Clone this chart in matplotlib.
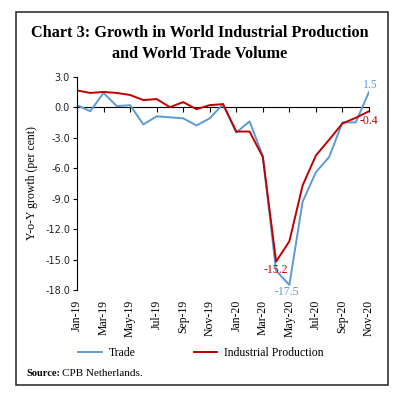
import matplotlib
matplotlib.use('Agg')
import matplotlib.pyplot as plt
from matplotlib.patches import Rectangle

months = ['Jan-19', 'Feb-19', 'Mar-19', 'Apr-19', 'May-19', 'Jun-19', 'Jul-19', 'Aug-19',
          'Sep-19', 'Oct-19', 'Nov-19', 'Dec-19', 'Jan-20', 'Feb-20', 'Mar-20', 'Apr-20',
          'May-20', 'Jun-20', 'Jul-20', 'Aug-20', 'Sep-20', 'Oct-20', 'Nov-20']
trade = [0.2, -0.4, 1.4, 0.1, 0.2, -1.7, -0.9, -1.0, -1.1, -1.8, -1.1, 0.3,
         -2.5, -1.4, -4.8, -16.1, -17.5, -9.3, -6.4, -4.9, -1.5, -1.5, 1.5]
ind_prod = [1.65, 1.4, 1.5, 1.4, 1.2, 0.7, 0.8, 0.0, 0.5, -0.2, 0.2, 0.3,
            -2.4, -2.4, -4.9, -15.2, -13.2, -7.7, -4.75, -3.2, -1.6, -1.05, -0.4]
yticks = [3.0, 0.0, -3.0, -6.0, -9.0, -12.0, -15.0, -18.0]

BLUE = '#5b9bd5'
RED = '#c00000'
SERIF = 'Liberation Serif'

W, H = 400, 398
fig = plt.figure(figsize=(4.0, 3.98), dpi=100)


def px(x0, y0, x1, y1):
    # pixel box (top-left origin) -> figure fraction rect
    return [x0 / W, 1 - y1 / H, (x1 - x0) / W, (y1 - y0) / H]


ax = fig.add_axes(px(77, 76.7, 369, 290))
x = list(range(len(months)))
ax.plot(x, trade, color=BLUE, lw=1.4, label='Trade')
ax.plot(x, ind_prod, color=RED, lw=1.4, label='Industrial Production')

ax.set_xlim(0, 22)
ax.set_ylim(-18, 3)
ax.set_yticks(yticks)
ax.set_yticklabels(['%.1f' % v for v in yticks], fontsize=7, family='DejaVu Sans', color='#222222')
ax.tick_params(axis='y', length=3, width=0.8, pad=2)

# month labels at the bottom, no tick marks there
ax.set_xticks(x[::2])
ax.set_xticklabels(months[::2], rotation=90, fontsize=8.5, family=SERIF)
ax.tick_params(axis='x', length=0, pad=7)
ax.spines['top'].set_visible(False)
ax.spines['right'].set_visible(False)
ax.spines['bottom'].set_visible(False)
ax.spines['left'].set_linewidth(0.8)

# zero line with its tick marks
zero_frac = (0 - (-18)) / (3 - (-18))
sec = ax.secondary_xaxis(zero_frac)
sec.set_alignment('bottom')
sec.set_xticks(x[::2])
sec.set_xticklabels([])
sec.tick_params(axis='x', length=3.5, width=0.8, direction='out',
                labelbottom=False, labeltop=False)
sec.spines['bottom'].set_linewidth(0.8)

ax.set_ylabel('Y-o-Y growth (per cent)', fontsize=8.5, family=SERIF, labelpad=5)

# data labels
lbl = dict(textcoords='offset points', fontsize=8.5, family=SERIF, ha='center', va='center')
ax.annotate('1.5', (22, 1.5), xytext=(1, 5), color=BLUE, **lbl)
ax.annotate('-0.4', (22, -0.4), xytext=(0, -7), color=RED, **lbl)
ax.annotate('-15.2', (15, -15.2), xytext=(0, -6), color=RED, **lbl)
ax.annotate('-17.5', (16, -17.5), xytext=(-2, -5), color=BLUE, **lbl)

fig.text(0.5, 1 - 33 / H, 'Chart 3: Growth in World Industrial Production', ha='center', va='center',
         fontsize=11.7, fontweight='bold', family=SERIF)
fig.text(0.5, 1 - 54 / H, 'and World Trade Volume', ha='center', va='center',
         fontsize=11.7, fontweight='bold', family=SERIF)

fig.legend(loc='center', bbox_to_anchor=(201 / W, 1 - 353 / H), ncol=2, frameon=False,
           prop={'family': SERIF, 'size': 8.5}, handlelength=2.0, columnspacing=4.9,
           handletextpad=0.6)

fig.text(26 / W, 1 - 373 / H, 'Source:', fontsize=7.5, fontweight='bold', family=SERIF, va='center')
fig.text(62 / W, 1 - 373 / H, 'CPB Netherlands.', fontsize=8, family=SERIF, va='center')

fig.patches.append(Rectangle((16 / W, 1 - 385 / H), (388 - 16) / W, (385 - 12) / H,
                             transform=fig.transFigure, fill=False, lw=1.1, edgecolor='#222222'))

fig.savefig('out.png', dpi=100)
